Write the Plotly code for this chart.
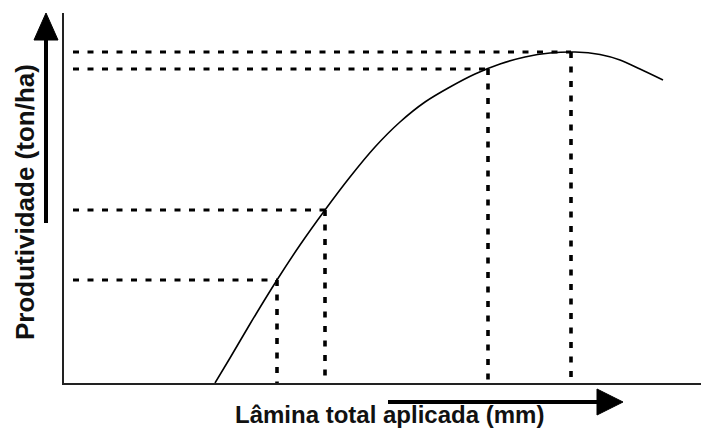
import plotly.graph_objects as go

# Curve: applied water depth vs yield (arbitrary units)
curve_x = [151, 166, 186, 213, 236, 261, 286, 311, 336, 361, 386, 411, 436, 461, 486, 511, 536, 556, 576, 599]
curve_y = [0, 25, 59, 103, 138, 173, 206, 236, 261, 281, 296, 309, 319, 326, 330, 331, 328.5, 323, 314, 303]

# Guide points (dotted projections onto the axes)
guide_x = [213, 261, 424, 507]
guide_y = [103, 173, 314, 331]
guide_start = 9

x_label = "Lâmina total aplicada (mm)"
y_label = "Produtividade (ton/ha)"

OFF = 8  # page body margin
W, H = 709 - OFF, 431 - OFF
ML, MR, MT, MB = 64 - OFF, 0, 13 - OFF, 48
PW, PH = W - ML - MR, H - MT - MB


def px(x):
    return (x - OFF - ML) / PW


def py(y):
    return (OFF + H - MB - y) / PH


fig = go.Figure()

dash = "6px,8.5px"
for gx, gy in zip(guide_x, guide_y):
    fig.add_trace(go.Scatter(x=[guide_start, gx], y=[gy, gy], mode="lines",
                             line=dict(color="black", width=3.2, dash=dash),
                             hoverinfo="skip", showlegend=False))
    fig.add_trace(go.Scatter(x=[gx, gx], y=[gy, 0], mode="lines",
                             line=dict(color="black", width=3.6, dash=dash),
                             hoverinfo="skip", showlegend=False))

fig.add_trace(go.Scatter(x=curve_x, y=curve_y, mode="lines",
                         line=dict(color="black", width=1.6, shape="spline", smoothing=0.8),
                         hoverinfo="skip", showlegend=False))

shapes = [
    # y arrow
    dict(type="line", xref="paper", yref="paper", x0=px(46), x1=px(46), y0=py(223), y1=py(38),
         line=dict(color="black", width=4)),
    dict(type="path", xref="paper", yref="paper",
         path=f"M {px(34)} {py(40)} L {px(58)} {py(40)} L {px(46)} {py(13)} Z",
         fillcolor="black", line=dict(color="black", width=1)),
    # x arrow
    dict(type="line", xref="paper", yref="paper", x0=px(388), x1=px(599), y0=py(402), y1=py(402),
         line=dict(color="black", width=4)),
    dict(type="path", xref="paper", yref="paper",
         path=f"M {px(597)} {py(389)} L {px(597)} {py(415)} L {px(623)} {py(402)} Z",
         fillcolor="black", line=dict(color="black", width=1)),
]

annotations = [
    dict(text=f"<b>{x_label}</b>", xref="paper", yref="paper", x=px(389), y=py(414),
         showarrow=False, xanchor="center", yanchor="middle",
         font=dict(family="Liberation Sans, Arial", size=24, color="#111")),
    dict(text=f"<b>{y_label}</b>", xref="paper", yref="paper", x=px(25), y=py(202),
         showarrow=False, xanchor="center", yanchor="middle", textangle=-90,
         font=dict(family="Liberation Sans, Arial", size=26, color="#111")),
]

fig.update_layout(
    width=W, height=H,
    margin=dict(l=ML, r=MR, t=MT, b=MB),
    paper_bgcolor="white", plot_bgcolor="white",
    shapes=shapes, annotations=annotations,
    xaxis=dict(range=[0, PW], showgrid=False, zeroline=False, showticklabels=False,
               ticks="", showline=True, linecolor="#222", linewidth=2, fixedrange=True),
    yaxis=dict(range=[0, PH], showgrid=False, zeroline=False, showticklabels=False,
               ticks="", showline=True, linecolor="#222", linewidth=2, fixedrange=True),
)

fig.write_html("out.html")
